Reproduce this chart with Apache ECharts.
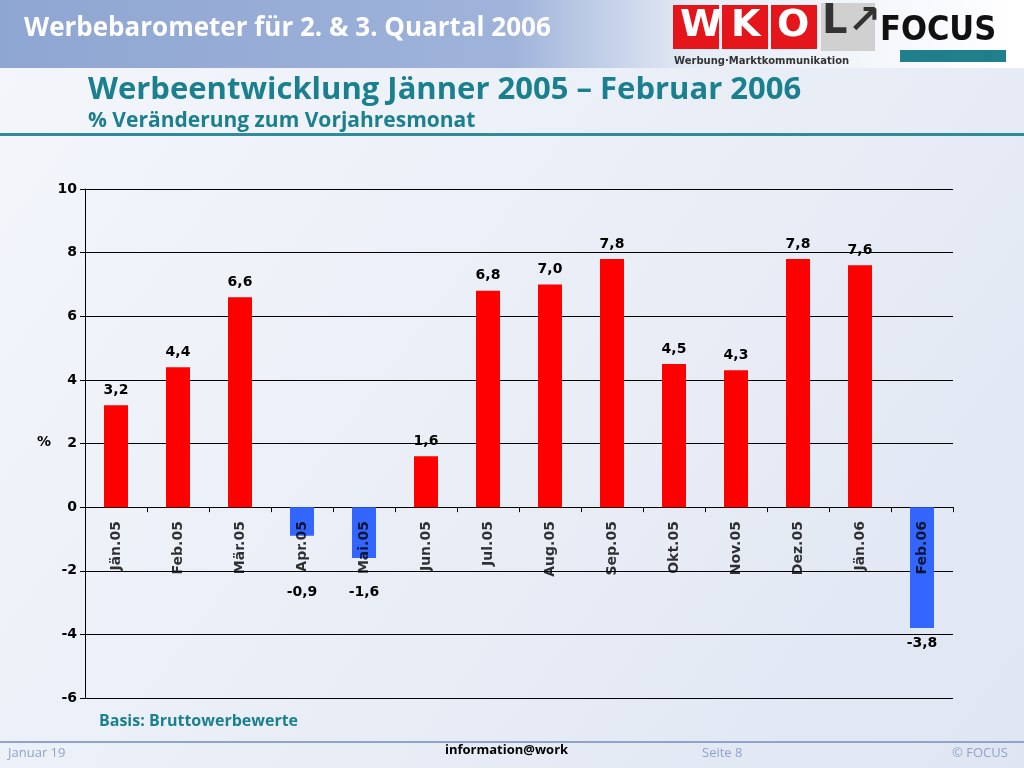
<!DOCTYPE html>
<html><head><meta charset="utf-8">
<script src="https://cdn.jsdelivr.net/npm/echarts@6/dist/echarts.min.js"></script>
<style>html,body{margin:0;padding:0;}#c{width:1024px;height:768px;}</style>
</head><body><div id="c"></div>
<script>
const categories = ['Jän.05','Feb.05','Mär.05','Apr.05','Mai.05','Jun.05','Jul.05','Aug.05','Sep.05','Okt.05','Nov.05','Dez.05','Jän.06','Feb.06'];
const values = [3.2,4.4,6.6,-0.9,-1.6,1.6,6.8,7.0,7.8,4.5,4.3,7.8,7.6,-3.8];
const yTicks = [-6,-4,-2,0,2,4,6,8,10];

const chart = echarts.init(document.getElementById('c'));
const font = 'Verdana, "DejaVu Sans", sans-serif';
const unitPx = (768-70-189)/16;
chart.setOption({
  animation:false,
  backgroundColor:{type:'linear',x:0,y:0,x2:1,y2:1,colorStops:[{offset:0,color:'#f4f6fb'},{offset:1,color:'#dfe6f2'}]},
  graphic:[
    {type:'rect',left:0,top:0,shape:{width:1024,height:68},style:{fill:{type:'linear',x:0,y:0,x2:1,y2:0,colorStops:[{offset:0,color:'#8ea6d2'},{offset:0.5,color:'#9fb3da'},{offset:0.68,color:'#e6ecf6'},{offset:1,color:'#ffffff'}]}}},
    {type:'text',left:24,top:16,style:{text:'Werbebarometer für 2. & 3. Quartal 2006',fill:'#fff',font:'bold 26px "Open Sans", sans-serif'}},
    {type:'rect',left:673,top:5,shape:{width:46,height:44},style:{fill:'#e4161b'}},
    {type:'rect',left:722,top:5,shape:{width:46,height:44},style:{fill:'#e4161b'}},
    {type:'rect',left:771,top:5,shape:{width:46,height:44},style:{fill:'#e4161b'}},
    {type:'text',left:680,top:7,style:{text:'W',fill:'#fff',font:'bold 38px "DejaVu Sans"'}},
    {type:'text',left:731,top:7,style:{text:'K',fill:'#fff',font:'bold 38px "DejaVu Sans"'}},
    {type:'text',left:777,top:7,style:{text:'O',fill:'#fff',font:'bold 38px "DejaVu Sans"'}},
    {type:'rect',left:821,top:3,shape:{width:54,height:48},style:{fill:'#d0d0d0'}},
    {type:'text',left:822,top:3,style:{text:'L↗',fill:'#333',font:'bold 40px "DejaVu Sans"'}},
    {type:'text',left:674,top:56,style:{text:'Werbung·Marktkommunikation',fill:'#333',font:'bold 10px "DejaVu Sans"'}},
    {type:'rect',left:900,top:50,shape:{width:106,height:12},style:{fill:'#1f7f8a'}},
    {type:'text',left:880,top:14,style:{text:'FOCUS',fill:'#111',font:'bold 34px "Liberation Sans Narrow","DejaVu Sans Condensed",sans-serif'}},
    {type:'text',left:88,top:75,style:{text:'Werbeentwicklung Jänner 2005 – Februar 2006',fill:'#1a7f8e',font:'bold 31px "Open Sans", sans-serif'}},
    {type:'text',left:88,top:111,style:{text:'% Veränderung zum Vorjahresmonat',fill:'#1a7f8e',font:'bold 21px "Open Sans", sans-serif'}},
    {type:'rect',left:0,top:133,shape:{width:1024,height:3},style:{fill:'#2e8b97'}},
    {type:'text',left:37,top:435,style:{text:'%',fill:'#000',font:'bold 14px '+font}},
    {type:'text',left:99,top:713,style:{text:'Basis: Bruttowerbewerte',fill:'#1a7f8e',font:'bold 16px "Open Sans", sans-serif'}},
    {type:'rect',left:0,top:741,shape:{width:1024,height:2},style:{fill:'#8fa3cc'}},
    {type:'text',left:8,top:747,style:{text:'Januar 19',fill:'#8fa3cc',font:'13px "Open Sans", sans-serif'}},
    {type:'text',left:445,top:744,style:{text:'information@work',fill:'#000',font:'bold 13px "Open Sans", sans-serif'}},
    {type:'text',left:702,top:747,style:{text:'Seite 8',fill:'#8fa3cc',font:'13px "Open Sans", sans-serif'}},
    {type:'text',left:952,top:747,style:{text:'© FOCUS',fill:'#8fa3cc',font:'13px "Open Sans", sans-serif'}}
  ],
  grid:{left:85,right:71,top:189,bottom:70,containLabel:false},
  xAxis:{type:'category',data:categories,axisLine:{onZero:true,lineStyle:{color:'#000',width:1}},axisTick:{show:true,lineStyle:{color:'#000'},length:5},
    axisLabel:{show:false}},
  yAxis:{type:'value',min:-6,max:10,interval:2,axisLine:{show:true,lineStyle:{color:'#000'}},axisTick:{show:true,lineStyle:{color:'#000'}},
    splitLine:{lineStyle:{color:'#000',width:1}},
    axisLabel:{fontWeight:'bold',fontSize:14,color:'#000',fontFamily:font,formatter:v=>yTicks.includes(v)?String(v):''}},
  series:[{type:'bar',barWidth:24,z:2,
    data:values.map(v=>({value:v,itemStyle:{color:v<0?'#3366ff':'#ff0000'},
      label:{position:v<0?'bottom':'top',distance:(v<0&&v>-2.4)?Math.round((2.4+v)*unitPx)+2:8}})),
    label:{show:true,fontWeight:'bold',fontSize:14,color:'#000',fontFamily:font,formatter:p=>p.value.toFixed(1).replace('.',',')}},
   {type:'scatter',data:categories.map(c=>[c,0]),symbolSize:0,z:5,silent:true,
    label:{show:true,position:'bottom',distance:14,rotate:90,align:'right',verticalAlign:'middle',
      fontWeight:'bold',fontSize:14,color:'#000',fontFamily:font,formatter:p=>p.value[0]}}]
});
</script></body></html>
